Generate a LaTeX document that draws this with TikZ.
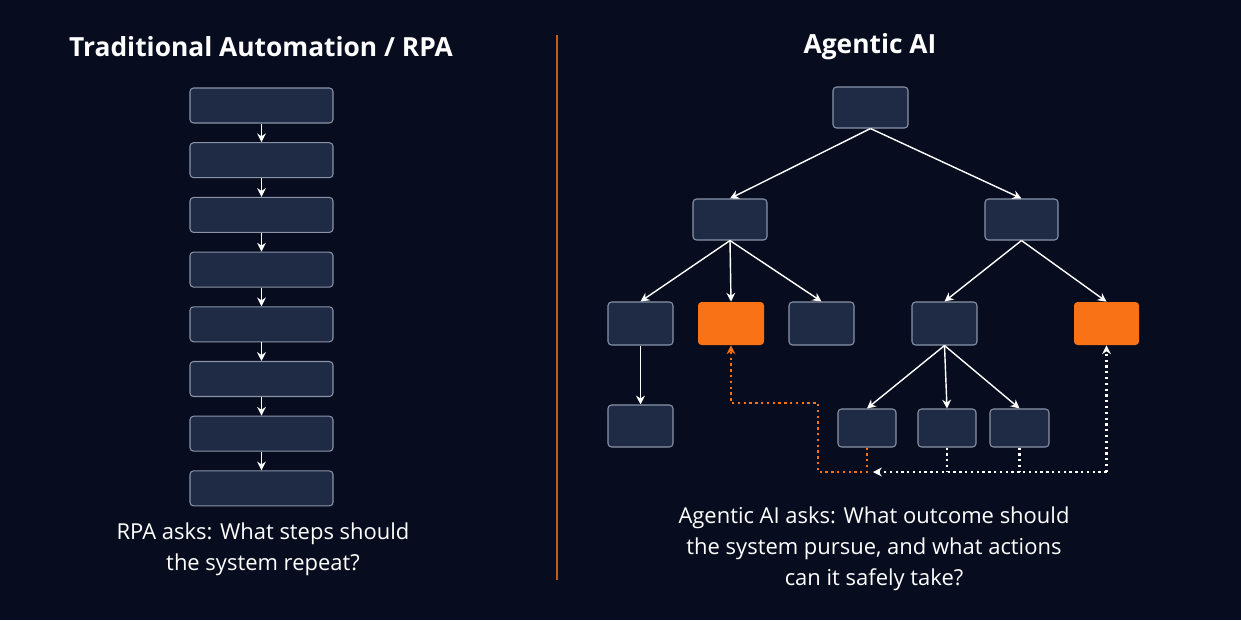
\documentclass[tikz,border=0pt]{standalone}
\usepackage{fontspec}
\setmainfont{Open Sans}
\usetikzlibrary{arrows.meta}
\definecolor{bg}{HTML}{070D1F}
\definecolor{boxfill}{HTML}{1F2A44}
\definecolor{boxline}{HTML}{8A93A8}
\definecolor{accent}{HTML}{F97316}
\begin{document}
\begin{tikzpicture}[x=0.02cm, y=-0.02cm,
  box/.style={draw=boxline, fill=boxfill, rounded corners=2pt, line width=0.6pt, inner sep=0pt},
  hot/.style={fill=accent, rounded corners=2pt, inner sep=0pt},
  link/.style={draw=white, line width=0.8pt, -{Stealth[length=5pt,width=5pt]}},
  loop/.style={line width=1.3pt, dotted, -{Stealth[length=5pt,width=5pt]}},
  caption/.style={text=white, font=\fontsize{12.5}{17.5}\selectfont, align=center}]

\fill [bg] (0, 0) rectangle (1241, 620);

% titles and divider
\node [text=white, font=\fontsize{15}{18}\selectfont\bfseries] (tl) at (261, 47) {Traditional Automation / RPA};
\node [text=white, font=\fontsize{15}{18}\selectfont\bfseries] (tr) at (870, 47) {Agentic AI};
\draw [accent!80!black, line width=0.8pt] (557, 35)--(557, 580);

% left column
\foreach \i in {1,...,8} {
  \node [box, minimum width=2.86cm, minimum height=0.7cm] (s\i) at (261.5, 105.5+54.7*\i-54.7) {};
}
\foreach \i [evaluate=\i as \j using int(\i+1)] in {1,...,7} {
  \draw [link] (s\i)--(s\j);
}

% right tree
\node [box, minimum width=1.5cm, minimum height=0.82cm] (root) at (870.5, 107.5) {};
\node [box, minimum width=1.48cm, minimum height=0.82cm] (a) at (730, 219.5) {};
\node [box, minimum width=1.46cm, minimum height=0.82cm] (b) at (1021.5, 219.5) {};

\node [box, minimum width=1.3cm, minimum height=0.86cm] (a1) at (640.5, 323.5) {};
\node [hot, minimum width=1.32cm, minimum height=0.86cm] (a2) at (731, 323.5) {};
\node [box, minimum width=1.3cm, minimum height=0.86cm] (a3) at (821.5, 323.5) {};
\node [box, minimum width=1.3cm, minimum height=0.86cm] (b1) at (944.5, 323.5) {};
\node [hot, minimum width=1.3cm, minimum height=0.86cm] (b2) at (1106.5, 323.5) {};

\node [box, minimum width=1.3cm, minimum height=0.84cm] (a11) at (640.5, 426) {};
\node [box, minimum width=1.16cm, minimum height=0.76cm] (c1) at (867, 428) {};
\node [box, minimum width=1.16cm, minimum height=0.76cm] (c2) at (947, 428) {};
\node [box, minimum width=1.18cm, minimum height=0.76cm] (c3) at (1019.5, 428) {};

\draw [link] (root.south)--(a.north);
\draw [link] (root.south)--(b.north);
\draw [link] (a.south)--(a1.north);
\draw [link] (a.south)--(a2.north);
\draw [link] (a.south)--(a3.north);
\draw [link] (b.south)--(b1.north);
\draw [link] (b.south)--(b2.north);
\draw [link] (b1.south)--(c1.north);
\draw [link] (b1.south)--(c2.north);
\draw [link] (b1.south)--(c3.north);
\draw [link] (a1)--(a11);

% feedback loops
\coordinate (j) at (873, 472);
\draw [loop, accent] (c1.south)--(c1.south |- j)--(818, 472)--(818, 403)--(731, 403)--(a2.south);
\draw [loop, white, -] (c2.south)--(c2.south |- j);
\draw [loop, white, -] (c3.south)--(c3.south |- j);
\draw [loop, white] (b2.south |- j)--(j);
\draw [loop, white] (b2.south |- j)--(b2.south);

% captions
\node [caption] (ql) at (263, 549) {RPA asks: What steps should\\the system repeat?};
\node [caption] (qr) at (874, 549) {Agentic AI asks: What outcome should\\the system pursue, and what actions\\can it safely take?};
\end{tikzpicture}
\end{document}
